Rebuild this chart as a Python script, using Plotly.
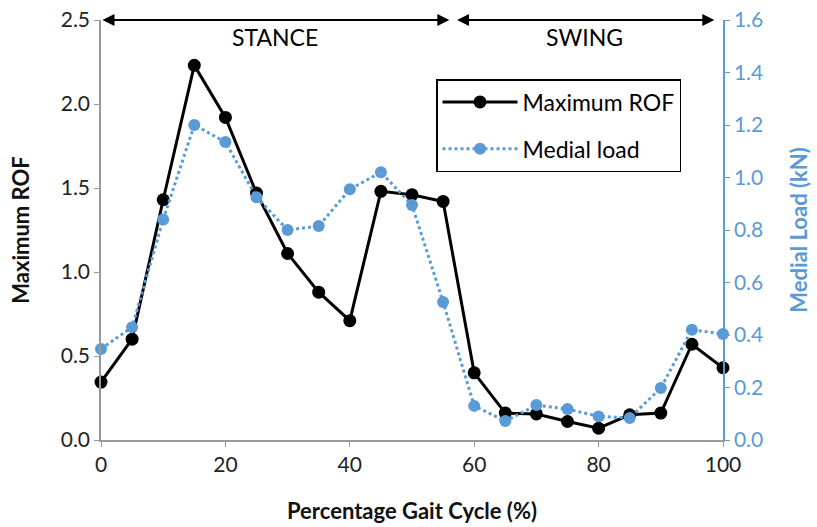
import plotly.graph_objects as go

gait_pct = [0, 5, 10, 15, 20, 25, 30, 35, 40, 45, 50, 55, 60, 65, 70, 75, 80, 85, 90, 95, 100]
max_rof = [0.345, 0.60, 1.43, 2.23, 1.92, 1.47, 1.11, 0.88, 0.71, 1.48, 1.46, 1.42,
           0.40, 0.16, 0.155, 0.11, 0.07, 0.15, 0.16, 0.57, 0.43]
medial_load = [0.347, 0.43, 0.84, 1.20, 1.135, 0.925, 0.80, 0.815, 0.955, 1.02, 0.895, 0.526,
               0.13, 0.072, 0.133, 0.118, 0.09, 0.084, 0.198, 0.42, 0.404]

phases = ["STANCE", "SWING"]
phase_start = [0, 57]
phase_end = [56, 98.6]

BLUE = "#5B9BD5"
FONT = "Lato"

fig = go.Figure()
fig.add_trace(go.Scatter(
    x=gait_pct, y=max_rof, name="Maximum ROF", mode="lines+markers",
    line=dict(color="black", width=3),
    marker=dict(color="black", size=13),
    cliponaxis=False, legendgroup="a",
))
fig.add_trace(go.Scatter(
    x=gait_pct, y=medial_load, name="Medial load", mode="lines+markers",
    line=dict(color=BLUE, width=3, dash="dot"),
    marker=dict(color=BLUE, size=12),
    yaxis="y2", cliponaxis=False, legendgroup="b",
))

for name, s, e in zip(phases, phase_start, phase_end):
    fig.add_annotation(
        x=e, y=2.5, ax=s, ay=2.5, xref="x", yref="y", axref="x", ayref="y",
        showarrow=True, arrowhead=2, startarrowhead=2, arrowside="end+start",
        arrowsize=1.2, arrowwidth=2, arrowcolor="black", text="",
    )
    fig.add_annotation(
        x=(s + e) / 2, y=2.5, xref="x", yref="y", yshift=-17,
        text=name, showarrow=False, font=dict(family=FONT, size=23, color="black"),
    )

fig.update_layout(
    width=817, height=527,
    margin=dict(l=101, r=94, t=20, b=87, autoexpand=False),
    paper_bgcolor="white", plot_bgcolor="white",
    font=dict(family=FONT, size=21, color="#222"),
    showlegend=True,
    legend=dict(
        x=0.5386, y=0.8595, xanchor="left", yanchor="top",
        bordercolor="black", borderwidth=1.5,
        font=dict(family=FONT, size=23, color="black"),
        itemwidth=75, tracegroupgap=14, traceorder="grouped",
    ),
    xaxis=dict(
        range=[0, 100], dtick=20, tick0=0, automargin=False,
        showline=True, linecolor="#999", linewidth=1.5,
        ticks="outside", ticklen=5, tickcolor="#999",
        showgrid=False, zeroline=False,
        tickfont=dict(family=FONT, size=21, color="#222"),
        title=dict(text="<b>Percentage Gait Cycle (%)</b>",
                   font=dict(family=FONT, size=22, color="#111"), standoff=29),
    ),
    yaxis=dict(
        range=[0, 2.5], dtick=0.5, tickformat=".1f", automargin=False,
        showline=True, linecolor="#999", linewidth=1.5,
        ticks="outside", ticklen=5, tickcolor="#999",
        showgrid=False, zeroline=False,
        tickfont=dict(family=FONT, size=21, color="#222"),
        title=dict(text="<b>Maximum ROF</b>",
                   font=dict(family=FONT, size=22, color="#111"), standoff=25),
    ),
    yaxis2=dict(
        range=[0, 1.6], dtick=0.2, tickformat=".1f", automargin=False,
        overlaying="y", side="right", anchor="x",
        showline=True, linecolor=BLUE, linewidth=1.5,
        ticks="outside", ticklen=5, tickcolor=BLUE,
        showgrid=False, zeroline=False,
        tickfont=dict(family=FONT, size=21, color=BLUE),
        title=dict(text="<b>Medial Load (kN)</b>",
                   font=dict(family=FONT, size=22, color=BLUE), standoff=29),
    ),
)

fig.write_html("out.html")
